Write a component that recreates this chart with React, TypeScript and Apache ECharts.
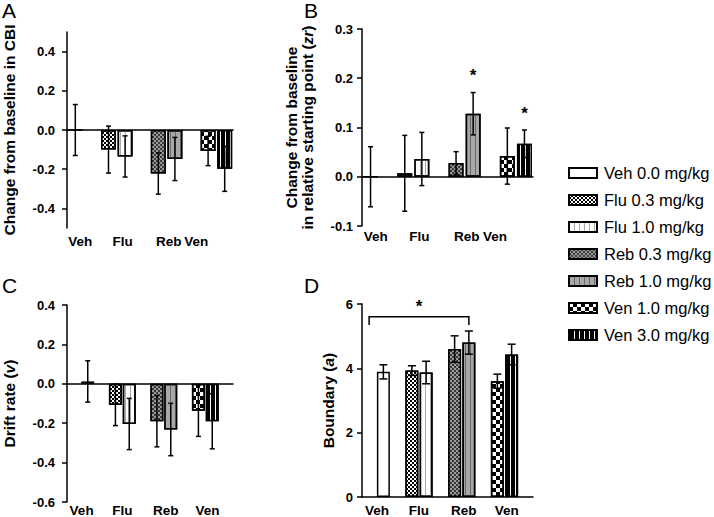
import React, { useEffect, useRef } from 'react';
import * as echarts from 'echarts';

const FONT = 'Liberation Sans, Arial, Helvetica, sans-serif';

const seriesNames = ['Veh 0.0 mg/kg', 'Flu 0.3 mg/kg', 'Flu 1.0 mg/kg', 'Reb 0.3 mg/kg', 'Reb 1.0 mg/kg', 'Ven 1.0 mg/kg', 'Ven 3.0 mg/kg'];
const groupLabels = ['Veh', 'Flu', 'Reb', 'Ven'];

// Panel A: change from baseline in CBI
const cbiMean = [0, -0.1, -0.135, -0.222, -0.148, -0.107, -0.198];
const cbiErr = [0.13, 0.12, 0.105, 0.105, 0.11, 0.075, 0.115];
// Panel B: change from baseline in relative starting point (zr)
const zrMean = [0, 0.007, 0.036, 0.028, 0.128, 0.042, 0.067];
const zrErr = [0.061, 0.077, 0.054, 0.023, 0.043, 0.057, 0.028];
// Panel C: drift rate (v)
const driftMean = [0.012, -0.107, -0.204, -0.19, -0.232, -0.137, -0.19];
const driftErr = [0.105, 0.105, 0.13, 0.13, 0.133, 0.13, 0.14];
// Panel D: boundary (a)
const boundMean = [3.89, 3.93, 3.87, 4.6, 4.8, 3.6, 4.43];
const boundErr = [0.22, 0.15, 0.35, 0.41, 0.36, 0.22, 0.32];

// tick values
const ticksA = [-0.4, -0.2, 0, 0.2, 0.4];

// significance marks: [seriesIndex, y]
const starsB = [[4, 0.205], [6, 0.129]];
// bracket in D: [fromSlot, toSlot, yTop, yBottom, starY]
const bracketD = [[0, 7, 5.6, 5.35, 5.93]];

// layout
const slotsAB = [0, 2, 3, 5, 6, 8, 9];
const slotsCD = [1, 3, 4, 6, 7, 9, 10];
const labelPosAB = [0.08, 0.335, 0.613, 0.778];
const labelPosCD = [0.088, 0.333, 0.595, 0.846];

const fills = ['#ffffff', '#ffffff', '#ffffff', '#3a3a3a', '#a8a8a8', '#ffffff', '#000000'];
const decals: any[] = [
  'none',
  { symbol: 'rect', symbolSize: 1, color: '#000000', dashArrayX: [[2, 2], [0, 2, 2, 0]], dashArrayY: [2, 0] },
  { symbol: 'rect', symbolSize: 1, color: '#aaaaaa', dashArrayX: [1, 4], dashArrayY: [1, 0] },
  { symbol: 'rect', symbolSize: 1, color: '#9a9a9a', dashArrayX: [[2, 2], [0, 2, 2, 0]], dashArrayY: [2, 0] },
  { symbol: 'rect', symbolSize: 1, color: '#6a6a6a', dashArrayX: [1, 4], dashArrayY: [1, 0] },
  { symbol: 'rect', symbolSize: 1, color: '#000000', dashArrayX: [[4, 4], [0, 4, 4, 0]], dashArrayY: [4, 0] },
  { symbol: 'rect', symbolSize: 1, color: '#ffffff', dashArrayX: [1, 4], dashArrayY: [1, 0] },
];

const NAME_SIZE = 15.5;
const richName = {
  i: { fontStyle: 'italic', fontWeight: 'bold', fontSize: NAME_SIZE, fontFamily: FONT, color: '#000' },
};

const panels = [
  {
    grid: { left: 63, top: 32, width: 170, height: 196 }, n: 10, slots: slotsAB, mean: cbiMean, err: cbiErr,
    yMin: -0.5, yMax: 0.5, interval: undefined as any, custom: ticksA, dec: 1,
    name: 'Change from baseline in CBI', nameGap: 50, yMargin: 12, labelPos: labelPosAB, xMargin: 6, cap: 5, barW: 15,
  },
  {
    grid: { left: 362, top: 29, width: 171, height: 197 }, n: 10, slots: slotsAB, mean: zrMean, err: zrErr,
    yMin: -0.1, yMax: 0.3, interval: 0.1, custom: undefined as any, dec: 1,
    name: 'Change from baseline\nin relative starting point ({i|zr})', nameGap: 47, yMargin: 9, labelPos: labelPosAB, xMargin: 3, cap: 5, barW: 15,
  },
  {
    grid: { left: 63, top: 305, width: 170, height: 197 }, n: 12, slots: slotsCD, mean: driftMean, err: driftErr,
    yMin: -0.6, yMax: 0.4, interval: 0.2, custom: undefined as any, dec: 1,
    name: 'Drift rate ({i|v})', nameGap: 50, yMargin: 12, labelPos: labelPosCD, xMargin: 1, cap: 5, barW: 13,
  },
  {
    grid: { left: 362, top: 304, width: 171, height: 196 }, n: 12, slots: slotsCD, mean: boundMean, err: boundErr,
    yMin: 0, yMax: 6, interval: 2, custom: undefined as any, dec: 0,
    name: 'Boundary ({i|a})', nameGap: 26, yMargin: 9, labelPos: labelPosCD, xMargin: 6, cap: 8, barW: 13,
  },
];

function buildOption() {
  const grid: any[] = [];
  const xAxis: any[] = [];
  const yAxis: any[] = [];
  const series: any[] = [];

  panels.forEach((p, g) => {
    grid.push({ ...p.grid, containLabel: false });
    xAxis.push({
      type: 'category', gridIndex: g, position: 'bottom',
      data: Array.from({ length: p.n }, (_, k) => 's' + k),
      axisLine: { show: true, onZero: true, lineStyle: { color: '#000', width: 1.5 } },
      axisTick: { show: false }, axisLabel: { show: false }, splitLine: { show: false },
    });
    const lp = p.labelPos;
    xAxis.push({
      type: 'value', gridIndex: g, position: 'bottom', min: 0, max: 1,
      axisLine: { show: false, onZero: false }, axisTick: { show: false }, splitLine: { show: false },
      axisLabel: {
        show: true, customValues: lp, margin: p.xMargin,
        color: '#000', fontWeight: 'bold', fontSize: 13.5, fontFamily: FONT,
        formatter: (v: number) => {
          const idx = lp.findIndex((q) => Math.abs(q - v) < 1e-6);
          return idx >= 0 ? groupLabels[idx] : '';
        },
      },
    });
    const dec = p.dec;
    yAxis.push({
      type: 'value', gridIndex: g, min: p.yMin, max: p.yMax,
      ...(p.interval !== undefined ? { interval: p.interval } : {}),
      axisLine: { show: true, onZero: false, lineStyle: { color: '#000', width: 1.5 } },
      axisTick: { show: true, length: 5, lineStyle: { color: '#000', width: 1.5 }, ...(p.custom ? { customValues: p.custom } : {}) },
      axisLabel: {
        color: '#000', fontWeight: 'bold', fontSize: 13, fontFamily: FONT, margin: p.yMargin,
        formatter: (v: number) => (Math.abs(v) < 1e-9 ? 0 : v).toFixed(dec),
        ...(p.custom ? { customValues: p.custom } : {}),
      },
      splitLine: { show: false },
      name: p.name, nameLocation: 'middle', nameGap: p.nameGap, nameRotate: 90,
      nameTextStyle: { color: '#000', fontWeight: 'bold', fontSize: NAME_SIZE, fontFamily: FONT, lineHeight: 16, rich: richName },
    });

    seriesNames.forEach((nm, i) => {
      const arr: any[] = Array.from({ length: p.n }, () => null);
      arr[p.slots[i]] = p.mean[i];
      series.push({
        type: 'bar', name: nm, xAxisIndex: 2 * g, yAxisIndex: g, data: arr,
        barWidth: p.barW, barGap: '-100%', z: 2, silent: true,
        itemStyle: { color: fills[i], borderColor: '#000', borderWidth: 1.5, decal: decals[i] },
      });
    });

    const cap = p.cap;
    series.push({
      type: 'custom', name: 'err' + g, xAxisIndex: 2 * g, yAxisIndex: g, z: 5, silent: true,
      data: p.slots.map((s, i) => [s, p.mean[i], p.err[i]]),
      encode: { x: 0, y: 1 },
      renderItem: (params: any, api: any) => {
        const x = api.value(0);
        const m = api.value(1);
        const e = api.value(2);
        const t = api.coord([x, m + e]);
        const b = api.coord([x, m - e]);
        const st = { stroke: '#000', lineWidth: 1.5 };
        const w = cap / 2;
        return {
          type: 'group',
          children: [
            { type: 'line', shape: { x1: t[0], y1: t[1], x2: b[0], y2: b[1] }, style: st },
            { type: 'line', shape: { x1: t[0] - w, y1: t[1], x2: t[0] + w, y2: t[1] }, style: st },
            { type: 'line', shape: { x1: b[0] - w, y1: b[1], x2: b[0] + w, y2: b[1] }, style: st },
          ],
        };
      },
    });
  });

  // stars in B
  series.push({
    type: 'custom', name: 'starsB', xAxisIndex: 2, yAxisIndex: 1, z: 6, silent: true,
    data: starsB.map(([si, y]) => [slotsAB[si], y]),
    encode: { x: 0, y: 1 },
    renderItem: (params: any, api: any) => {
      const c = api.coord([api.value(0), api.value(1)]);
      return {
        type: 'text', x: c[0], y: c[1],
        style: { text: '*', fill: '#000', fontSize: 17, fontWeight: 'bold', fontFamily: FONT, align: 'center', verticalAlign: 'middle' },
      };
    },
  });

  // bracket in D
  series.push({
    type: 'custom', name: 'bracketD', xAxisIndex: 6, yAxisIndex: 3, z: 6, silent: true,
    data: bracketD,
    encode: { x: [0, 1], y: [2, 3] },
    renderItem: (params: any, api: any) => {
      const x0 = api.value(0), x1 = api.value(1), yt = api.value(2), yb = api.value(3), ys = api.value(4);
      const a = api.coord([x0, yb]);
      const b = api.coord([x0, yt]);
      const c = api.coord([x1, yt]);
      const d = api.coord([x1, yb]);
      const s = api.coord([x0, ys]);
      return {
        type: 'group',
        children: [
          { type: 'polyline', shape: { points: [a, b, c, d] }, style: { stroke: '#000', lineWidth: 1.5, fill: 'none' } },
          {
            type: 'text', x: (b[0] + c[0]) / 2, y: s[1],
            style: { text: '*', fill: '#000', fontSize: 17, fontWeight: 'bold', fontFamily: FONT, align: 'center', verticalAlign: 'middle' },
          },
        ],
      };
    },
  });

  return {
    animation: false,
    backgroundColor: '#ffffff',
    grid, xAxis, yAxis, series,
    legend: {
      data: seriesNames, orient: 'vertical', left: 563, top: 159,
      itemWidth: 28, itemHeight: 10, itemGap: 9, icon: 'rect', selectedMode: false,
      textStyle: { color: '#000', fontSize: 16.5, fontFamily: FONT, lineHeight: 18, padding: [0, 0, 0, 2] },
    },
    graphic: [
      { type: 'text', left: 2, top: 0, style: { text: 'A', fontSize: 21, fill: '#000', fontFamily: FONT } },
      { type: 'text', left: 304, top: 0, style: { text: 'B', fontSize: 21, fill: '#000', fontFamily: FONT } },
      { type: 'text', left: 2, top: 275, style: { text: 'C', fontSize: 21, fill: '#000', fontFamily: FONT } },
      { type: 'text', left: 304, top: 275, style: { text: 'D', fontSize: 21, fill: '#000', fontFamily: FONT } },
    ],
  };
}

export default function App() {
  const ref = useRef<HTMLDivElement>(null);
  useEffect(() => {
    const chart = echarts.init(ref.current!, null, { renderer: 'svg' });
    chart.setOption(buildOption() as any);
    return () => chart.dispose();
  }, []);
  return <div ref={ref} style={{ position: 'absolute', left: 0, top: 0, width: 714, height: 517, background: '#fff' }} />;
}
